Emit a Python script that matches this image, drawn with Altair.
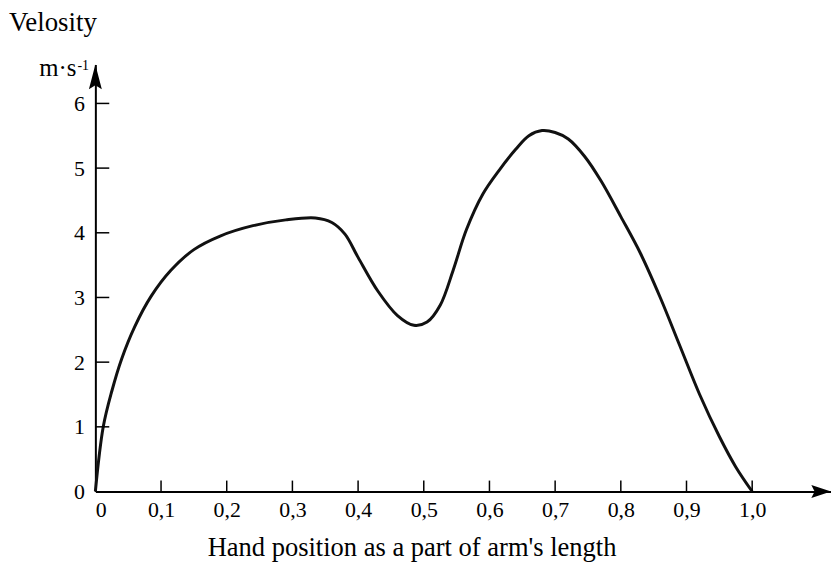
import altair as alt
import pandas as pd

# Curve
pos = [0, 0.012, 0.025, 0.04, 0.06, 0.085, 0.115, 0.15, 0.19, 0.24, 0.29, 0.335,
       0.36, 0.38, 0.40, 0.43, 0.46, 0.485, 0.505, 0.525, 0.545, 0.565, 0.59,
       0.615, 0.64, 0.66, 0.68, 0.70, 0.72, 0.745, 0.77, 0.80, 0.83, 0.86, 0.89,
       0.92, 0.95, 0.975, 1.0]
vel = [0, 1.0, 1.55, 2.05, 2.55, 3.02, 3.42, 3.74, 3.95, 4.11, 4.2, 4.23,
       4.16, 3.98, 3.62, 3.1, 2.72, 2.57, 2.62, 2.88, 3.43, 4.05, 4.6,
       4.97, 5.29, 5.5, 5.58, 5.55, 5.45, 5.18, 4.8, 4.25, 3.68, 3.0, 2.25,
       1.5, 0.85, 0.38, 0]

x_ticks = [0.1, 0.2, 0.3, 0.4, 0.5, 0.6, 0.7, 0.8, 0.9, 1.0]
x_labels = [0, 0.1, 0.2, 0.3, 0.4, 0.5, 0.6, 0.7, 0.8, 0.9, 1.0]
y_ticks = [1, 2, 3, 4, 5, 6]
y_labels = [0, 1, 2, 3, 4, 5, 6]

X_MAX = 1.12
Y_MAX = 6.6
W = 741
H = 430
FONT = "Liberation Serif"

xs = alt.Scale(domain=[0, X_MAX], nice=False, zero=False)
ys = alt.Scale(domain=[0, Y_MAX], nice=False, zero=False)

curve_df = pd.DataFrame({"x": pos, "y": vel})

x_axis = alt.Axis(values=x_labels, ticks=False, grid=False, title=None,
                  domainColor="black", domainWidth=2, labelFont=FONT,
                  labelFontSize=22, labelColor="black", labelPadding=8,
                  labelExpr="datum.value == 0 ? '0' : replace(format(datum.value, '.1f'), '.', ',')")
y_axis = alt.Axis(values=y_labels, ticks=False, grid=False, title=None,
                  domainColor="black", domainWidth=2, labelFont=FONT,
                  labelFontSize=22, labelColor="black", labelPadding=11,
                  format="d")

curve = alt.Chart(curve_df).mark_line(
    color="#111", strokeWidth=3, interpolate="catmull-rom"
).encode(
    x=alt.X("x:Q", scale=xs, axis=x_axis),
    y=alt.Y("y:Q", scale=ys, axis=y_axis),
)

xt = alt.Chart(pd.DataFrame({"x": x_ticks})).mark_rule(
    color="black", strokeWidth=1.5
).encode(x=alt.X("x:Q", scale=xs), y=alt.value(H), y2=alt.value(H - 11))

yt = alt.Chart(pd.DataFrame({"y": y_ticks})).mark_rule(
    color="black", strokeWidth=1.5
).encode(y=alt.Y("y:Q", scale=ys), x=alt.value(0), x2=alt.value(14))

arrow_x = alt.Chart(pd.DataFrame({"x": [X_MAX], "y": [0]})).mark_point(
    shape="M0,0L-1.8,-0.6L-1.5,0L-1.8,0.6Z", filled=True, color="black",
    size=484, opacity=1
).encode(x=alt.X("x:Q", scale=xs), y=alt.Y("y:Q", scale=ys))

arrow_y = alt.Chart(pd.DataFrame({"x": [0], "y": [Y_MAX]})).mark_point(
    shape="M0,0L-0.5,1.9L0,1.6L0.5,1.9Z", filled=True, color="black",
    size=676, opacity=1
).encode(x=alt.X("x:Q", scale=xs), y=alt.Y("y:Q", scale=ys))

title = alt.Chart(pd.DataFrame({"t": ["Velosity"]})).mark_text(
    font=FONT, fontSize=27, align="left", baseline="alphabetic", color="black"
).encode(x=alt.value(-87), y=alt.value(-34), text="t:N")

unit = alt.Chart(pd.DataFrame({"t": ["m·s"]})).mark_text(
    font=FONT, fontSize=25, align="right", baseline="alphabetic", color="black"
).encode(x=alt.value(-19), y=alt.value(11), text="t:N")

unit_exp = alt.Chart(pd.DataFrame({"t": ["-1"]})).mark_text(
    font=FONT, fontSize=14, align="left", baseline="alphabetic", color="black"
).encode(x=alt.value(-18), y=alt.value(5), text="t:N")

xtitle = alt.Chart(pd.DataFrame({"t": ["Hand position as a part of arm's length"]})).mark_text(
    font=FONT, fontSize=26.7, align="center", baseline="alphabetic", color="black"
).encode(x=alt.value(319), y=alt.value(495), text="t:N")

chart = alt.layer(curve, xt, yt, arrow_x, arrow_y, title, unit, unit_exp, xtitle).properties(
    width=W, height=H,
    autosize=alt.AutoSizeParams(type="none"),
    padding={"left": 88, "top": 55, "right": 0, "bottom": 73},
).configure(background="white").configure_view(strokeWidth=0)

chart.save("out.html", embed_options={"renderer": "svg", "actions": False})
